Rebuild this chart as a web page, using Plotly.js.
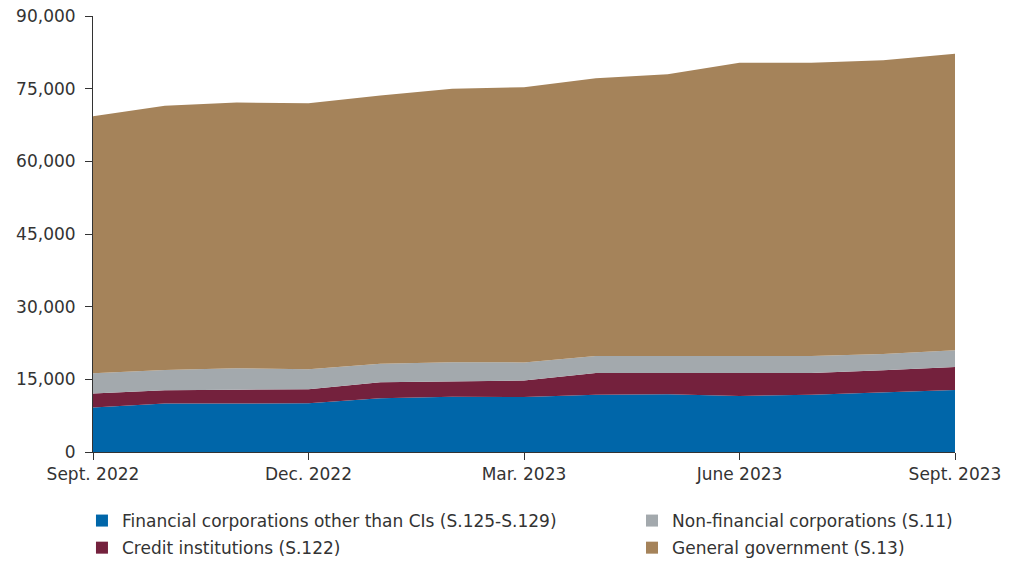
<!DOCTYPE html>
<html>
<head>
<meta charset="utf-8">
<script src="https://cdn.plot.ly/plotly-3.0.1.min.js"></script>
<style>html,body{margin:0;padding:0;background:#fff;}#chart{width:1011px;height:561px;}</style>
</head>
<body>
<div id="chart"></div>
<script>
const months = ['Sept. 2022','Oct. 2022','Nov. 2022','Dec. 2022','Jan. 2023','Feb. 2023','Mar. 2023','Apr. 2023','May 2023','June 2023','July 2023','Aug. 2023','Sept. 2023'];
const tickMonths = ['Sept. 2022','Dec. 2022','Mar. 2023','June 2023','Sept. 2023'];

// stacked component values (EUR millions)
const financialCorps = [9160, 10000, 10000, 10050, 11080, 11430, 11350, 11840, 11900, 11560, 11840, 12250, 12790];
const creditInst     = [2890, 2730, 2870, 2890, 3300, 3160, 3400, 4460, 4400, 4740, 4460, 4600, 4750];
const nonFinCorps    = [4190, 4190, 4400, 4120, 3860, 3920, 3750, 3510, 3510, 3510, 3510, 3370, 3440];
const generalGov     = [53080, 54540, 54870, 54940, 55350, 56460, 56800, 57350, 58170, 60520, 60520, 60650, 61210];

const names = [
  'Financial corporations other than CIs (S.125-S.129)',
  'Credit institutions (S.122)',
  'Non-financial corporations (S.11)',
  'General government (S.13)'
];
const colors = ['#0066a9', '#74213d', '#a3a9ad', '#a5835a'];
const series = [financialCorps, creditInst, nonFinCorps, generalGov];

const traces = series.map((s, i) => ({
  type: 'scatter', mode: 'lines', x: months, y: s,
  stackgroup: 'one', line: {width: 0}, fillcolor: colors[i],
  showlegend: false, hoverinfo: 'skip'
}));

// legend entries: column 1 -> legend, column 2 -> legend2
const legendOf = ['legend', 'legend', 'legend2', 'legend2'];
series.forEach((s, i) => {
  traces.push({
    type: 'scatter', mode: 'markers', x: [null], y: [null],
    name: names[i], legend: legendOf[i], legendgroup: 'g' + i,
    marker: {symbol: 'square', size: 16, color: colors[i]},
    showlegend: true, hoverinfo: 'skip'
  });
});

const font = {family: 'DejaVu Sans, sans-serif', size: 17, color: '#333333'};
const legendFont = {family: 'DejaVu Sans, sans-serif', size: 17, color: '#333333'};

const axisCommon = {
  showgrid: false, zeroline: false,
  showline: true, linecolor: '#333333', linewidth: 1,
  ticks: 'outside', ticklen: 7, tickcolor: '#333333',
  tickfont: font
};

const layout = {
  width: 1011, height: 561,
  margin: {l: 93, r: 56, t: 16, b: 109, autoexpand: false},
  paper_bgcolor: '#ffffff', plot_bgcolor: '#ffffff',
  font: font,
  showlegend: true,
  xaxis: Object.assign({
    type: 'category', range: [0, 12],
    tickmode: 'array', tickvals: tickMonths, ticktext: tickMonths
  }, axisCommon),
  yaxis: Object.assign({
    range: [0, 90000], dtick: 15000, tick0: 0, tickformat: ',d',
    ticklabelstandoff: 6
  }, axisCommon),
  legend: {
    orientation: 'v', x: -0.0128, xanchor: 'left', y: -0.117, yanchor: 'top',
    font: legendFont, tracegroupgap: 2, itemsizing: 'constant', bgcolor: 'rgba(0,0,0,0)'
  },
  legend2: {
    orientation: 'v', x: 0.6253, xanchor: 'left', y: -0.117, yanchor: 'top',
    font: legendFont, tracegroupgap: 2, itemsizing: 'constant', bgcolor: 'rgba(0,0,0,0)'
  }
};

Plotly.newPlot('chart', traces, layout, {displayModeBar: false, staticPlot: true});
</script>
</body>
</html>
